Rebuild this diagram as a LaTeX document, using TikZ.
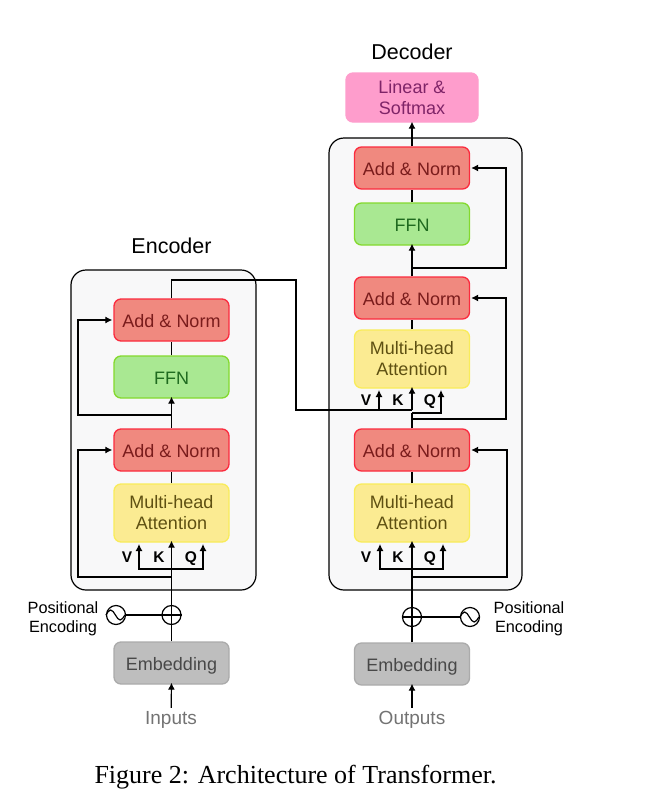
\documentclass[tikz,border=0pt]{standalone}
\usepackage{fontspec}
\usetikzlibrary{arrows.meta}
\setmainfont{Liberation Sans}
\newfontfamily\captionfont{Liberation Serif}
\definecolor{addfill}{HTML}{F0897F}
\definecolor{adddraw}{HTML}{FB2B3E}
\definecolor{addtext}{HTML}{7A1C1C}
\definecolor{ffnfill}{HTML}{A9E892}
\definecolor{ffndraw}{HTML}{84D92E}
\definecolor{ffntext}{HTML}{1F6A1F}
\definecolor{attfill}{HTML}{FBEB92}
\definecolor{attdraw}{HTML}{F9EC5A}
\definecolor{atttext}{HTML}{5E5012}
\definecolor{embfill}{HTML}{BEBEBE}
\definecolor{embdraw}{HTML}{ABABAB}
\definecolor{embtext}{HTML}{484848}
\definecolor{linfill}{HTML}{FE9DCC}
\definecolor{lintext}{HTML}{7F2468}
\definecolor{boxfill}{HTML}{F8F8F9}
\begin{document}
\begin{tikzpicture}[x=1pt,y=-1pt]
    \tikzset{block/.style = {shape=rectangle,draw,rounded corners=7,line width=1.3,inner sep=0,
        minimum width=115,align=center,font=\fontsize{18}{21}\selectfont,
        execute at begin node={\rule{0pt}{15pt}}}}
    \tikzset{addnorm/.style = {block,minimum height=42,fill=addfill,draw=adddraw,text=addtext}}
    \tikzset{ffn/.style = {block,minimum height=42,fill=ffnfill,draw=ffndraw,text=ffntext}}
    \tikzset{attention/.style = {block,minimum height=58,fill=attfill,draw=attdraw,text=atttext,
        execute at begin node={\rule{0pt}{17pt}}}}
    \tikzset{embedding/.style = {block,minimum height=42,fill=embfill,draw=embdraw,text=embtext,
        execute at begin node={\rule{0pt}{19pt}}}}
    \tikzset{softmax/.style = {block,minimum width=132,minimum height=49,fill=linfill,draw=linfill,text=lintext}}
    \tikzset{container/.style = {shape=rectangle,draw,rounded corners=15,line width=1.2,fill=boxfill,inner sep=0}}
    \tikzset{title/.style = {font=\fontsize{21.5}{24}\selectfont}}
    \tikzset{inout/.style = {text=black!55,font=\fontsize{19}{22}\selectfont}}
    \tikzset{letter/.style = {text height=11,text depth=0,font=\fontsize{15.5}{18}\selectfont\bfseries}}
    \tikzset{posenc/.style = {align=center,font=\fontsize{16.3}{19}\selectfont}}
    \tikzset{ring/.style = {shape=circle,draw,line width=1.2,inner sep=0,minimum size=19}}
    \tikzset{edge/.style = {line width=1.2,>={Latex[length=7pt,width=7pt]}}}
    \useasboundingbox (0,0) rectangle (651,801);
    % containers
    \node[container,minimum width=185,minimum height=320] (encbox) at (163.5,430) {};
    \node[container,minimum width=193,minimum height=452] (decbox) at (425.5,364) {};
    \node[title] (enctitle) at (171.5,246) {Encoder};
    \node[title] (dectitle) at (412,52) {Decoder};
    % encoder blocks
    \node[addnorm] (encadd2) at (171.5,320) {Add \& Norm};
    \node[ffn] (encffn) at (171.5,377) {FFN};
    \node[addnorm] (encadd1) at (171.5,450) {Add \& Norm};
    \node[attention] (encatt) at (171.5,513) {Multi-head\\Attention};
    \node[embedding] (encemb) at (171.5,663) {Embedding};
    \node[inout] (inputs) at (171,720) {Inputs};
    \node[ring] (encplus) at (171.5,615) {};
    \node[ring] (encsine) at (116,615) {};
    \node[posenc] (encpos) at (63,619) {Positional\\Encoding};
    \node[letter] (encv) at (127,557) {V};
    \node[letter] (enck) at (159,557) {K};
    \node[letter] (encq) at (191,557) {Q};
    % decoder blocks
    \node[softmax] (linear) at (412,97.5) {Linear \&\\Softmax};
    \node[addnorm] (decadd3) at (412,168) {Add \& Norm};
    \node[ffn] (decffn) at (412,224) {FFN};
    \node[addnorm] (decadd2) at (412,298) {Add \& Norm};
    \node[attention] (decatt2) at (412,359) {Multi-head\\Attention};
    \node[addnorm] (decadd1) at (412,450) {Add \& Norm};
    \node[attention] (decatt1) at (412,513) {Multi-head\\Attention};
    \node[embedding] (decemb) at (412,664) {Embedding};
    \node[inout] (outputs) at (412,720) {Outputs};
    \node[ring] (decplus) at (412,617) {};
    \node[ring] (decsine) at (470,617) {};
    \node[posenc] (decpos) at (529,619) {Positional\\Encoding};
    \node[letter] (decv2) at (366,400) {V};
    \node[letter] (deck2) at (398,400) {K};
    \node[letter] (decq2) at (430,400) {Q};
    \node[letter] (decv1) at (366,557) {V};
    \node[letter] (deck1) at (398,557) {K};
    \node[letter] (decq1) at (430,557) {Q};
    \node[font=\captionfont\fontsize{26}{30}\selectfont] (caption) at (295.5,777) {Figure 2: Architecture of Transformer.};
    % free ends of the branches
    \coordinate (encskip1) at (78,577);
    \coordinate (encsplit1) at (171.5,577);
    \coordinate (encvq) at (171.5,569);
    \coordinate (encskip2) at (78,415);
    \coordinate (encsplit2) at (171.5,415);
    \coordinate (cross1) at (171.5,280);
    \coordinate (cross2) at (296,280);
    \coordinate (cross3) at (296,410);
    \coordinate (decskip1) at (507,577);
    \coordinate (decsplit1) at (412,577);
    \coordinate (decvq) at (412,569);
    \coordinate (decskip2) at (506,419);
    \coordinate (decsplit2) at (412,419);
    \coordinate (decq2turn) at (412,413);
    \coordinate (deck2turn) at (412,410);
    \coordinate (decskip3) at (506,268);
    \coordinate (decsplit3) at (412,268);
    \coordinate (encvend) at (139,544);
    \coordinate (encqend) at (203,544);
    \coordinate (decv1end) at (380,544);
    \coordinate (decq1end) at (443,544);
    \coordinate (decv2end) at (379,390);
    \coordinate (decq2end) at (441,390);
    % encoder connectors
    \draw[edge,->] (inputs) to ([yshift=2]encemb.south);
    \draw[edge] (encemb) to (encplus);
    \draw[edge,->] (encplus.north) to ([yshift=2]encatt.south);
    \draw[edge] (encplus.west) to (encplus.east);
    \draw[edge] (encsine) to (encplus);
    \draw[edge] (encplus.north) to (encplus.south);
    \draw[edge,->] (encsplit1) -- (encskip1) |- ([xshift=-1]encadd1.west);
    \draw[edge,->] (encvq) -| (encvend);
    \draw[edge,->] (encvq) -| (encqend);
    \draw[edge] (encatt) to (encadd1);
    \draw[edge,->] (encadd1) to ([yshift=2]encffn.south);
    \draw[edge,->] (encsplit2) -- (encskip2) |- ([xshift=-1]encadd2.west);
    \draw[edge] (encffn) to (encadd2);
    \draw[edge] (encadd2.north) -- (cross1) -- (cross2) -- (cross3) -- (deck2turn);
    \draw[edge,->] (cross3 -| decv2end) to (decv2end);
    % decoder connectors
    \draw[edge,->] (outputs) to ([yshift=2]decemb.south);
    \draw[edge] (decemb) to (decplus);
    \draw[edge,->] (decplus.north) to ([yshift=2]decatt1.south);
    \draw[edge] (decplus.west) to (decplus.east);
    \draw[edge] (decsine) to (decplus);
    \draw[edge] (decplus.north) to (decplus.south);
    \draw[edge,->] (decsplit1) -- (decskip1) |- ([xshift=1]decadd1.east);
    \draw[edge,->] (decvq) -| (decv1end);
    \draw[edge,->] (decvq) -| (decq1end);
    \draw[edge] (decatt1) to (decadd1);
    \draw[edge] (decadd1.north) to (decq2turn);
    \draw[edge,->] (decq2turn) -| (decq2end);
    \draw[edge,->] (deck2turn) to ([yshift=2]decatt2.south);
    \draw[edge,->] (decsplit2) -- (decskip2) |- ([xshift=1]decadd2.east);
    \draw[edge] (decatt2) to (decadd2);
    \draw[edge,->] (decadd2) to ([yshift=2]decffn.south);
    \draw[edge,->] (decsplit3) -- (decskip3) |- ([xshift=1]decadd3.east);
    \draw[edge] (decffn) to (decadd3);
    \draw[edge,->] (decadd3) to ([yshift=1]linear.south);
    % sine marks
    \draw[edge] (encsine.west) sin ++(4.75,-5) cos ++(4.75,5) sin ++(4.75,5) cos ++(4.75,-5);
    \draw[edge] (decsine.west) sin ++(4.75,-5) cos ++(4.75,5) sin ++(4.75,5) cos ++(4.75,-5);
\end{tikzpicture}
\end{document}
